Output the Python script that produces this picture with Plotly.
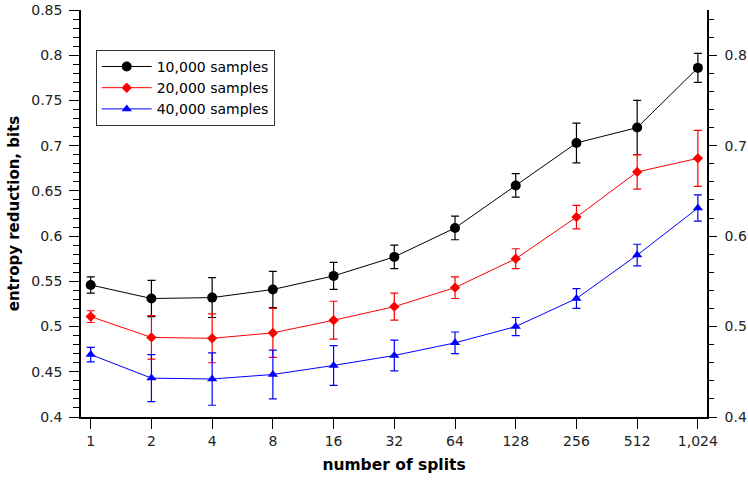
import plotly.graph_objects as go

splits = ["1", "2", "4", "8", "16", "32", "64", "128", "256", "512", "1,024"]

s10k = [0.546, 0.531, 0.532, 0.541, 0.556, 0.577, 0.609, 0.656, 0.703, 0.720, 0.786]
e10k = [0.009, 0.020, 0.022, 0.020, 0.015, 0.013, 0.013, 0.013, 0.022, 0.030, 0.016]

s20k = [0.511, 0.488, 0.487, 0.493, 0.507, 0.522, 0.543, 0.575, 0.621, 0.671, 0.686]
e20k = [0.0065, 0.024, 0.027, 0.027, 0.021, 0.015, 0.012, 0.011, 0.013, 0.019, 0.031]

s40k = [0.469, 0.443, 0.442, 0.447, 0.457, 0.468, 0.482, 0.500, 0.531, 0.579, 0.631]
e40k = [0.008, 0.026, 0.029, 0.027, 0.022, 0.017, 0.012, 0.010, 0.011, 0.012, 0.0145]

names = ["10,000 samples", "20,000 samples", "40,000 samples"]
colors = ["#000000", "#ff0000", "#0000ff"]
symbols = ["circle", "diamond", "triangle-up"]
sizes = [10, 8, 9]

FONT = "DejaVu Sans, Verdana, sans-serif"

fig = go.Figure()
for name, ys, es, c, sym, sz in zip(names, [s10k, s20k, s40k], [e10k, e20k, e40k], colors, symbols, sizes):
    fig.add_trace(go.Scatter(
        x=splits, y=ys, name=name, mode="lines+markers",
        line=dict(color=c, width=1),
        marker=dict(color=c, symbol=sym, size=sz),
        error_y=dict(type="data", array=es, visible=True, color=c, thickness=1.2, width=4),
    ))

# invisible trace for the right axis
fig.add_trace(go.Scatter(x=splits, y=s10k, yaxis="y2", showlegend=False,
                         mode="markers", marker=dict(opacity=0), hoverinfo="skip"))

fig.update_layout(
    width=748, height=482,
    margin=dict(l=81, r=41, t=10, b=65, autoexpand=False),
    plot_bgcolor="white", paper_bgcolor="white",
    font=dict(family=FONT, size=14, color="#222222"),
    showlegend=True,
    legend=dict(x=0.0235, y=0.902, xanchor="left", yanchor="top",
                bordercolor="#333333", borderwidth=1, bgcolor="white",
                itemwidth=50,
                font=dict(size=14, color="#000000")),
    xaxis=dict(type="category", range=[-0.16, 10.15], showline=True, linecolor="black",
               linewidth=1.5, ticks="outside", ticklen=10, tickcolor="black",
               showgrid=False, zeroline=False, automargin=False,
               title=dict(text="<b>number of splits</b>", font=dict(size=15.5, color="black"), standoff=12)),
    yaxis=dict(range=[0.4, 0.85], dtick=0.05, tickformat="~g", showline=True, linecolor="black",
               linewidth=1.5, ticks="outside", ticklen=10, tickcolor="black",
               ticklabelstandoff=4,
               showgrid=False, zeroline=False, automargin=False,
               minor=dict(dtick=0.01, ticks="outside", ticklen=6, tickcolor="black"),
               title=dict(text="<b>entropy reduction, bits</b>", font=dict(size=15, color="black"), standoff=8)),
    yaxis2=dict(overlaying="y", side="right", range=[0.4, 0.85], dtick=0.1, tickformat="~g",
                showline=True, linecolor="black", linewidth=1.5, ticks="outside", ticklen=8,
                ticklabelstandoff=5, automargin=False,
                tickcolor="black", showgrid=False, zeroline=False,
                minor=dict(dtick=0.02, ticks="outside", ticklen=5, tickcolor="black")),
)

fig.write_html("out.html")
